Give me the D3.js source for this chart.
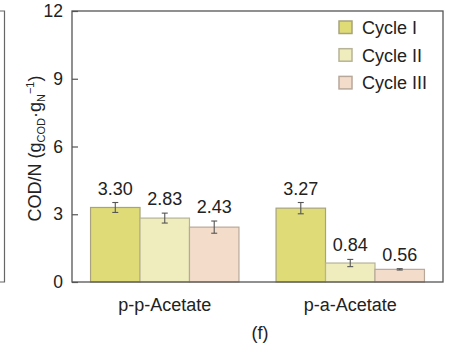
<!DOCTYPE html>
<html>
<head>
<meta charset="utf-8">
<script src="https://cdn.jsdelivr.net/npm/d3@7"></script>
<style>
  html, body { margin: 0; padding: 0; background: #fff; }
  svg { display: block; font-family: "Liberation Sans", Arial, sans-serif; }
</style>
</head>
<body>
<svg id="chart" width="451" height="352"></svg>
<script>
// Substrate groups and cycles
const categories = ["p-p-Acetate", "p-a-Acetate"];
const cycles = ["Cycle I", "Cycle II", "Cycle III"];
// COD/N ratios per cycle (one entry per category)
const cycle1 = [3.30, 3.27];
const cycle2 = [2.83, 0.84];
const cycle3 = [2.43, 0.56];
// Standard deviations
const err1 = [0.22, 0.25];
const err2 = [0.22, 0.16];
const err3 = [0.27, 0.03];
const yTicks = [0, 3, 6, 9, 12];

const fills = ["#dfdc78", "#efedbd", "#f3ddca"];
const strokes = ["#a8a37e", "#b6b396", "#b8a89a"];

const values = [cycle1, cycle2, cycle3];
const errors = [err1, err2, err3];

const svg = d3.select("#chart");
const mLeft = 72, mRight = 443, mTop = 11, mBottom = 282;

const y = d3.scaleLinear().domain([0, 12]).range([mBottom, mTop]);
const x0 = d3.scaleBand().domain(categories).range([mLeft, mRight])
  .paddingInner(0.2).paddingOuter(0.1);
const x1 = d3.scaleBand().domain(cycles).range([0, x0.bandwidth()]);

// Edge of the neighbouring panel
svg.append("path")
  .attr("d", `M0,${mTop}H4.5V${mBottom}H0`)
  .attr("fill", "none").attr("stroke", "#666").attr("stroke-width", 1.2);

// Bars
const rows = [];
categories.forEach((c, i) => cycles.forEach((s, j) => {
  rows.push({ cat: c, cycle: s, j, v: values[j][i], e: errors[j][i] });
}));
const cx = d => x0(d.cat) + x1(d.cycle) + x1.bandwidth() / 2;

const g = svg.append("g");
g.selectAll("rect.bar").data(rows).join("rect")
  .attr("class", "bar")
  .attr("x", d => x0(d.cat) + x1(d.cycle))
  .attr("y", d => y(d.v))
  .attr("width", x1.bandwidth())
  .attr("height", d => y(0) - y(d.v))
  .attr("fill", d => fills[d.j])
  .attr("stroke", d => strokes[d.j])
  .attr("stroke-width", 1.2);

// Error bars
const eb = g.selectAll("g.err").data(rows).join("g").attr("class", "err")
  .attr("stroke", "#555").attr("stroke-width", 1.1);
eb.append("line")
  .attr("x1", cx).attr("x2", cx)
  .attr("y1", d => y(d.v - d.e)).attr("y2", d => y(d.v + d.e));
[-1, 1].forEach(s => {
  eb.append("line")
    .attr("x1", d => cx(d) - 3).attr("x2", d => cx(d) + 3)
    .attr("y1", d => y(d.v + s * d.e)).attr("y2", d => y(d.v + s * d.e));
});

// Value labels
g.selectAll("text.val").data(rows).join("text")
  .attr("class", "val")
  .attr("x", cx)
  .attr("y", d => y(d.v + d.e) - 8)
  .attr("text-anchor", "middle")
  .attr("font-size", 18).attr("fill", "#222")
  .text(d => d.v.toFixed(2));

// Y axis with inward ticks
const yAxis = svg.append("g").attr("transform", `translate(${mLeft},0)`)
  .call(d3.axisLeft(y).tickValues(yTicks).tickSize(-6).tickPadding(9).tickFormat(d3.format("d")));
yAxis.select(".domain").remove();
yAxis.selectAll(".tick line").attr("stroke", "#555").attr("stroke-width", 1.2);
yAxis.selectAll(".tick text").attr("font-size", 17.5).attr("fill", "#222")
  .attr("font-family", "Liberation Sans, Arial, sans-serif");

// X axis labels
const xAxis = svg.append("g").attr("transform", `translate(0,${mBottom})`)
  .call(d3.axisBottom(x0).tickSize(0).tickPadding(0));
xAxis.select(".domain").remove();
xAxis.selectAll(".tick text").attr("font-size", 18).attr("fill", "#222")
  .attr("dy", null).attr("y", 29)
  .attr("font-family", "Liberation Sans, Arial, sans-serif");

// Frame
svg.append("rect")
  .attr("x", mLeft).attr("y", mTop)
  .attr("width", mRight - mLeft).attr("height", mBottom - mTop)
  .attr("fill", "none").attr("stroke", "#555").attr("stroke-width", 1.3);

// Y axis title
const yt = svg.append("text")
  .attr("transform", `translate(40.5,148.5) rotate(-90)`)
  .attr("text-anchor", "middle")
  .attr("font-size", 18).attr("fill", "#222");
yt.append("tspan").text("COD/N (g");
yt.append("tspan").attr("font-size", 11).attr("dy", 4).text("COD");
yt.append("tspan").attr("dy", -4).text("·g");
yt.append("tspan").attr("font-size", 11).attr("dy", 4).text("N");
yt.append("tspan").attr("font-size", 11).attr("dy", -11).text("−1");
yt.append("tspan").attr("dy", 7).text(")");

// Legend
const lg = svg.append("g").attr("transform", "translate(339,21)");
cycles.forEach((c, j) => {
  const row = lg.append("g").attr("transform", `translate(0,${j * 27.7})`);
  row.append("rect").attr("width", 13).attr("height", 12.5)
    .attr("fill", fills[j]).attr("stroke", strokes[j]).attr("stroke-width", 1.5);
  row.append("text").attr("x", 23).attr("y", 13)
    .attr("font-size", 18).attr("fill", "#222").text(c);
});

// Panel label
svg.append("text").attr("x", 260).attr("y", 339)
  .attr("text-anchor", "middle").attr("font-size", 18).attr("fill", "#222")
  .text("(f)");
</script>
</body>
</html>
